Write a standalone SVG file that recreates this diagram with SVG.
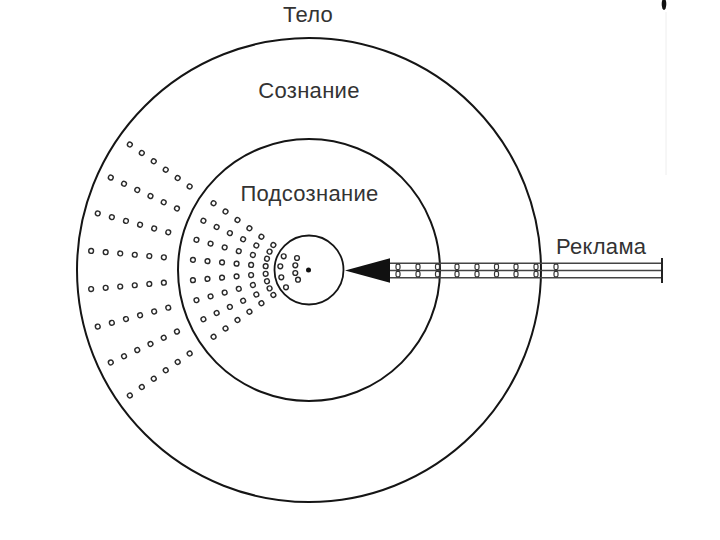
<svg xmlns="http://www.w3.org/2000/svg" xmlns:xlink="http://www.w3.org/1999/xlink" width="720" height="540" viewBox="0 0 720 540">
<style>
.ring{fill:none;stroke:#151515;stroke-width:2}
.dot{fill:#fff;stroke:#2a2a2a;stroke-width:1.4}
.lbl{font-family:"Liberation Sans",Arial,sans-serif;font-size:22px;letter-spacing:0.3px;fill:#333}
.rail{stroke:#444;stroke-width:1.5;fill:none}
.tick{fill:#fff;stroke:#333;stroke-width:1.2}
</style>
<defs>
<g id="ray">
<circle class="dot" cx="265.5" cy="270" r="2.4"/>
<circle class="dot" cx="250.9" cy="270" r="2.4"/>
<circle class="dot" cx="236.3" cy="270" r="2.4"/>
<circle class="dot" cx="221.7" cy="270" r="2.4"/>
<circle class="dot" cx="207.1" cy="270" r="2.4"/>
<circle class="dot" cx="192.5" cy="270" r="2.4"/>
<circle class="dot" cx="163.3" cy="270" r="2.4"/>
<circle class="dot" cx="148.7" cy="270" r="2.4"/>
<circle class="dot" cx="134.1" cy="270" r="2.4"/>
<circle class="dot" cx="119.5" cy="270" r="2.4"/>
<circle class="dot" cx="104.9" cy="270" r="2.4"/>
<circle class="dot" cx="90.3" cy="270" r="2.4"/>
</g>
<g id="tk">
<rect class="tick" x="-2" y="264.2" width="4" height="5.4" rx="1.5"/>
<rect class="tick" x="-2" y="271.4" width="4" height="5.4" rx="1.5"/>
</g>
</defs>
<rect width="720" height="540" fill="#fff"/>
<g id="body">
<circle class="ring" cx="309" cy="270" r="232"/>
<text class="lbl" x="308" y="22" text-anchor="middle">Тело</text>
</g>
<g id="consciousness">
<circle class="ring" cx="309" cy="270" r="131"/>
<text class="lbl" x="309" y="98" text-anchor="middle">Сознание</text>
</g>
<g id="subconscious">
<text class="lbl" x="309.5" y="201" text-anchor="middle">Подсознание</text>
</g>
<g id="core">
<circle class="ring" cx="309" cy="270" r="34.5" style="stroke-width:1.8"/>
<circle cx="308.5" cy="270" r="2.5" fill="#111"/>
<circle class="dot" cx="283.7" cy="256.3" r="2.4"/>
<circle class="dot" cx="280.3" cy="266.3" r="2.4"/>
<circle class="dot" cx="281.3" cy="277.3" r="2.4"/>
<circle class="dot" cx="286" cy="287.3" r="2.4"/>
<circle class="dot" cx="297" cy="258" r="2.4"/>
<circle class="dot" cx="295.3" cy="265.3" r="2.4"/>
<circle class="dot" cx="295.3" cy="273" r="2.4"/>
<circle class="dot" cx="298" cy="279.7" r="2.4"/>
</g>
<g id="dots">
<use xlink:href="#ray" transform="rotate(5 309 270)"/>
<use xlink:href="#ray" transform="rotate(15 309 270)"/>
<use xlink:href="#ray" transform="rotate(25 309 270)"/>
<use xlink:href="#ray" transform="rotate(35 309 270)"/>
<use xlink:href="#ray" transform="rotate(-5 309 270)"/>
<use xlink:href="#ray" transform="rotate(-15 309 270)"/>
<use xlink:href="#ray" transform="rotate(-25 309 270)"/>
<use xlink:href="#ray" transform="rotate(-35 309 270)"/>
</g>
<g id="connectors">
<line class="rail" x1="390" y1="263.2" x2="662" y2="263.2"/>
<line class="rail" x1="390" y1="270.5" x2="662" y2="270.5"/>
<line class="rail" x1="390" y1="277.8" x2="662" y2="277.8"/>
<line x1="662" y1="258" x2="662" y2="283" stroke="#222" stroke-width="2"/>
<use xlink:href="#tk" transform="translate(398 0)"/>
<use xlink:href="#tk" transform="translate(418 0)"/>
<use xlink:href="#tk" transform="translate(437.5 0)"/>
<use xlink:href="#tk" transform="translate(457 0)"/>
<use xlink:href="#tk" transform="translate(477 0)"/>
<use xlink:href="#tk" transform="translate(496.5 0)"/>
<use xlink:href="#tk" transform="translate(516 0)"/>
<use xlink:href="#tk" transform="translate(536 0)"/>
<use xlink:href="#tk" transform="translate(556 0)"/>
<polygon points="345,270.5 390,258.3 390,282.7" fill="#111"/>
</g>
<g id="ad">
<text class="lbl" x="556" y="254">Реклама</text>
</g>
<g id="edge">
<ellipse cx="664" cy="4" rx="2.3" ry="6" fill="#111"/>
<line x1="666" y1="12" x2="666" y2="175" stroke="#eee" stroke-width="1"/>
</g>
</svg>
